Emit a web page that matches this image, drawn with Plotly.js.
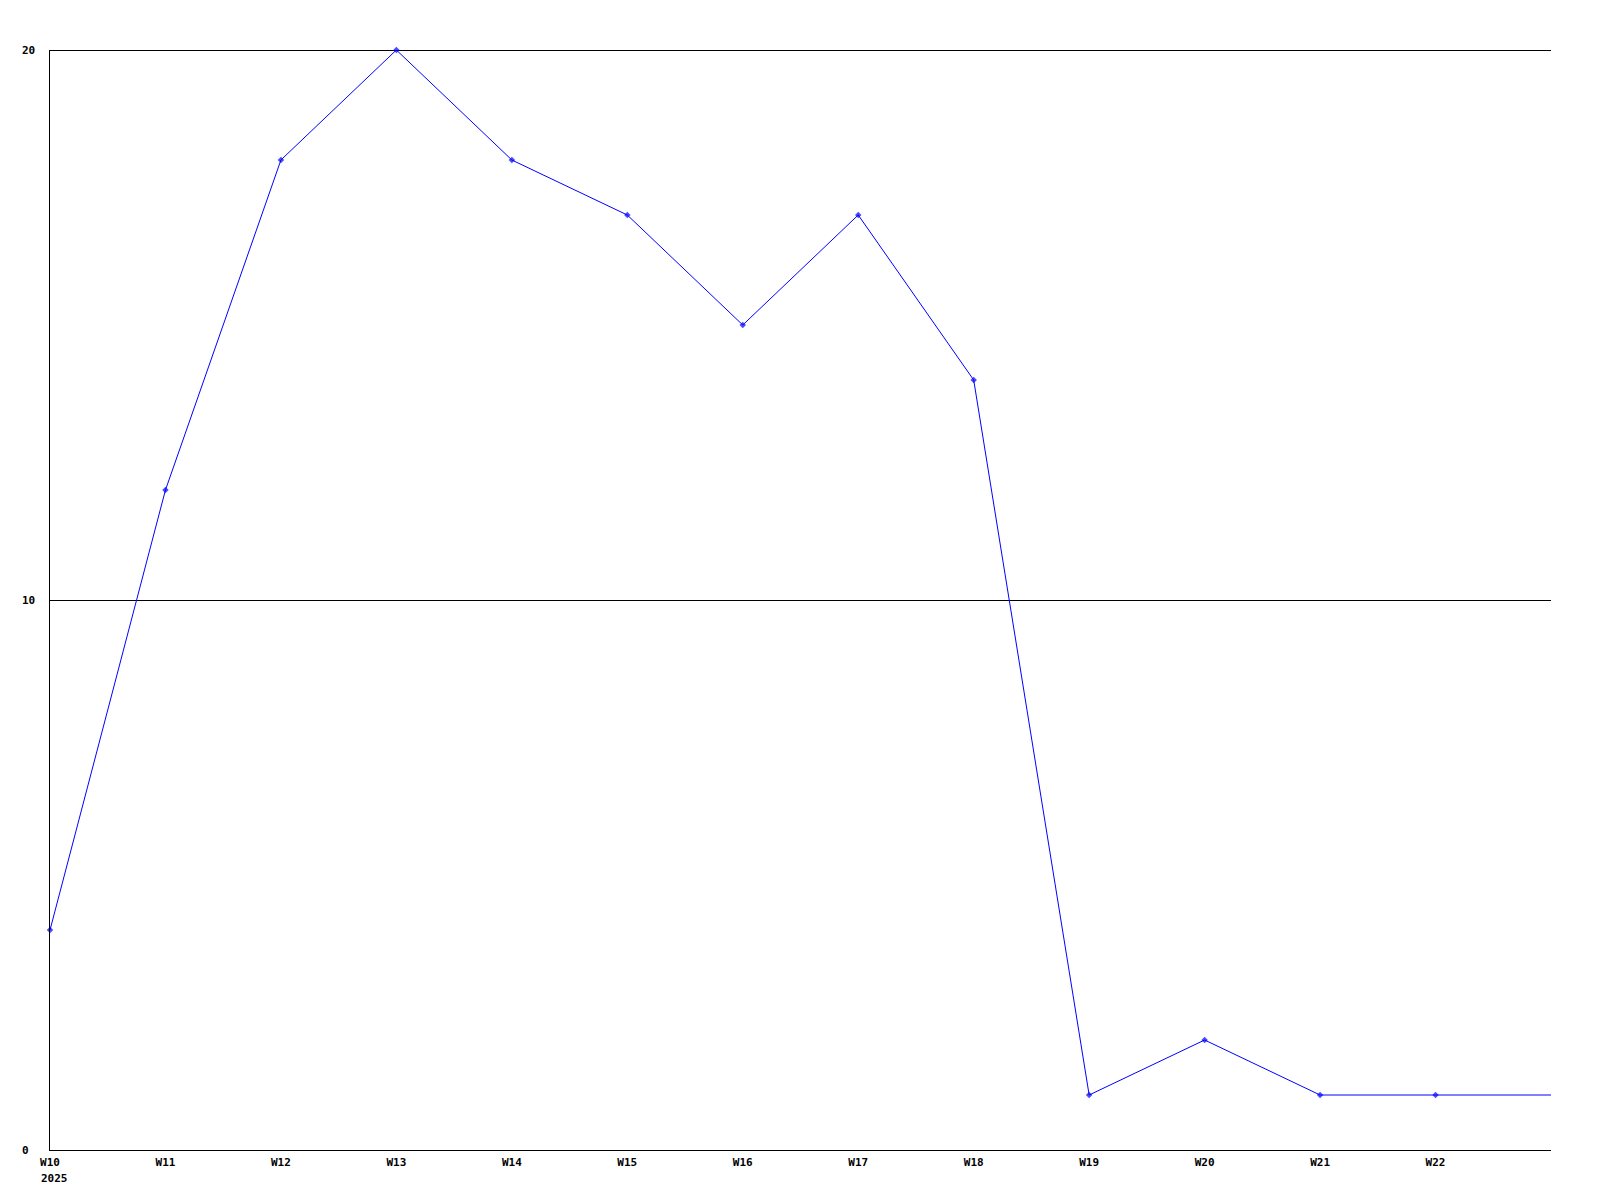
<!DOCTYPE html>
<html>
<head>
<meta charset="utf-8">
<script src="https://cdn.plot.ly/plotly-3.0.1.min.js"></script>
<style>html,body{margin:0;padding:0;background:#fff}
.shapelayer path{shape-rendering:crispEdges}</style>
</head>
<body>
<div id="chart" style="width:1600px;height:1200px"></div>
<script>
// Data
const weeks = ["W10","W11","W12","W13","W14","W15","W16","W17","W18","W19","W20","W21","W22","W23"];
const values = [4, 12, 18, 20, 18, 17, 15, 17, 14, 1, 2, 1, 1, 1];
const tickLabels = ["W10","W11","W12","W13","W14","W15","W16","W17","W18","W19","W20","W21","W22"];
const yearLabel = "2025";
const yTicks = [0, 10, 20];

const W = 1600, H = 1200;
const margin = {l: 50, r: 49, t: 50, b: 50};
const plotW = W - margin.l - margin.r;
const font = {family: "DejaVu Sans Mono, monospace", size: 11, color: "#000", weight: "bold"};

const xIdx = weeks.map((_, i) => i);
const markerSizes = weeks.map((_, i) => i < tickLabels.length ? 5 : 0);

const trace = {
  x: xIdx, y: values, type: "scatter", mode: "lines+markers",
  line: {color: "#0000ff", width: 1},
  marker: {color: "#0000ff", size: markerSizes, symbol: "diamond", line: {width: 0}},
  hoverinfo: "skip", showlegend: false, cliponaxis: false
};

const annotations = yTicks.map(v => ({
  text: String(v), xref: "paper", yref: "y", x: (20 - margin.l) / plotW, y: v,
  xanchor: "left", yanchor: "middle", showarrow: false, font: font
}));
annotations.push({
  text: yearLabel, xref: "paper", yref: "paper", x: (39 - margin.l) / plotW, y: 0,
  xanchor: "left", yanchor: "top", yshift: -20, showarrow: false, font: font
});

const shapes = yTicks.filter(v => v > 0).map(v => ({
  type: "line", xref: "paper", yref: "y", x0: 0, x1: 1, y0: v, y1: v,
  line: {color: "#000", width: 1}, layer: "below"
}));

const layout = {
  width: W, height: H, margin: margin,
  paper_bgcolor: "#fff", plot_bgcolor: "#fff",
  showlegend: false,
  xaxis: {
    range: [0, weeks.length - 1], tickvals: tickLabels.map((_, i) => i), ticktext: tickLabels,
    showgrid: false, zeroline: false, showline: true, linecolor: "#000", linewidth: 1,
    ticks: "", tickfont: font, ticklabelstandoff: 2, fixedrange: true
  },
  yaxis: {
    range: [0, 20], tickvals: yTicks, showticklabels: false,
    showgrid: false, zeroline: false,
    showline: true, linecolor: "#000", linewidth: 1, ticks: "", fixedrange: true
  },
  shapes: shapes,
  annotations: annotations
};

Plotly.newPlot("chart", [trace], layout, {staticPlot: true, displayModeBar: false});
</script>
</body>
</html>
